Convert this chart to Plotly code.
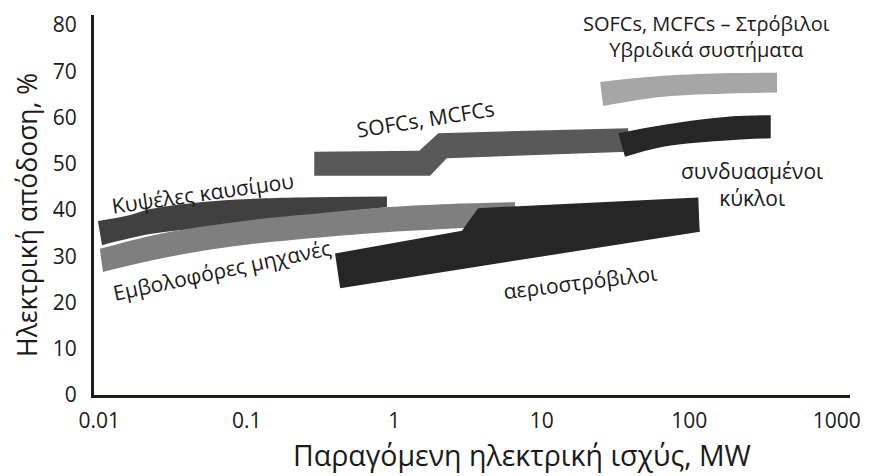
import plotly.graph_objects as go
import math

# ---- data (power in MW, electrical efficiency in %) ----
# smooth bands: upper edge and lower edge (left -> right)
fuel_cells_up_mw   = [0.0098, 0.0162, 0.0221, 0.0482, 0.105, 0.230, 0.893]
fuel_cells_up_eff  = [37.6, 38.9, 40.2, 41.7, 42.4, 42.7, 42.9]
fuel_cells_lo_mw   = [0.01045, 0.0221, 0.0482, 0.105, 0.230, 0.893]
fuel_cells_lo_eff  = [32.4, 34.8, 36.1, 37.4, 38.7, 40.6]

recip_up_mw   = [0.0101, 0.0221, 0.0482, 0.105, 0.230, 0.879, 2.39, 6.60]
recip_up_eff  = [31.6, 34.4, 36.3, 37.8, 38.9, 40.6, 41.3, 41.7]
recip_lo_mw   = [0.0106, 0.0221, 0.0482, 0.105, 0.230, 0.879, 2.88, 6.60]
recip_lo_eff  = [26.6, 29.0, 31.1, 32.6, 33.7, 35.2, 36.1, 36.8]

combined_up_mw  = [33.1, 66.4, 189, 357]
combined_up_eff = [56.6, 58.4, 60.2, 60.5]
combined_lo_mw  = [36.7, 66.4, 189, 357]
combined_lo_eff = [51.5, 53.7, 55.1, 55.5]

hybrid_up_mw  = [24.9, 66.4, 189, 394]
hybrid_up_eff = [67.7, 69.0, 69.6, 69.7]
hybrid_lo_mw  = [26.1, 66.4, 189, 394]
hybrid_lo_eff = [62.5, 64.5, 65.2, 65.4]

# stepped bands: closed outline
sofc_mw  = [0.287, 1.48, 1.99, 38.6, 38.6, 2.27, 1.75, 0.287]
sofc_eff = [52.6, 52.8, 56.6, 57.7, 52.6, 51.2, 47.4, 47.4]

gas_turbine_mw  = [0.397, 2.88, 3.70, 115.3, 116.8, 118.0, 0.430]
gas_turbine_eff = [30.6, 35.5, 40.4, 42.7, 37.8, 35.3, 23.1]

x_tick_vals = [0.01, 0.1, 1, 10, 100, 1000]
x_tick_text = ["0.01", "0.1", "1", "10", "100", "1000"]
y_tick_vals = [0, 10, 20, 30, 40, 50, 60, 70, 80]

FONT = "Open Sans"
TXT = "#1a1a1a"
AXC = "#1c1c14"

fig = go.Figure()


def smooth_band(name, xu, yu, xl, yl, col):
    fig.add_trace(go.Scatter(x=xl, y=yl, mode="lines",
                             line=dict(width=0, color=col, shape="spline", smoothing=1.0),
                             hoverinfo="skip", showlegend=False))
    fig.add_trace(go.Scatter(x=xu, y=yu, mode="lines", fill="tonexty", fillcolor=col,
                             line=dict(width=0, color=col, shape="spline", smoothing=1.0),
                             name=name, hoverinfo="name", showlegend=False))


def step_band(name, xs, ys, col):
    fig.add_trace(go.Scatter(x=xs, y=ys, mode="lines", fill="toself", fillcolor=col,
                             line=dict(width=0, color=col), name=name,
                             hoverinfo="name", showlegend=False))


smooth_band("Κυψέλες καυσίμου", fuel_cells_up_mw, fuel_cells_up_eff,
            fuel_cells_lo_mw, fuel_cells_lo_eff, "#404040")
smooth_band("Εμβολοφόρες μηχανές", recip_up_mw, recip_up_eff,
            recip_lo_mw, recip_lo_eff, "#7f7f7f")
step_band("SOFCs, MCFCs", sofc_mw, sofc_eff, "#595959")
step_band("αεριοστρόβιλοι", gas_turbine_mw, gas_turbine_eff, "#262626")
smooth_band("συνδυασμένοι κύκλοι", combined_up_mw, combined_up_eff,
            combined_lo_mw, combined_lo_eff, "#262626")
smooth_band("SOFCs, MCFCs – Στρόβιλοι", hybrid_up_mw, hybrid_up_eff,
            hybrid_lo_mw, hybrid_lo_eff, "#a6a6a6")

labels = [
    ("Κυψέλες καυσίμου", 0.0503, 43.7, -8, 21),
    ("Εμβολοφόρες μηχανές", 0.068, 27.0, -12, 21),
    ("SOFCs, MCFCs", 1.62, 59.7, -9, 21),
    ("αεριοστρόβιλοι", 18.2, 24.4, -7, 21),
    ("συνδυασμένοι<br>κύκλοι", 267, 45.6, 0, 21),
    ("SOFCs, MCFCs – Στρόβιλοι<br>Υβριδικά συστήματα", 130, 77.6, 0, 20),
]
for text, xv, yv, ang, size in labels:
    fig.add_annotation(x=math.log10(xv), y=yv, xref="x", yref="y", text=text,
                       textangle=ang, showarrow=False,
                       xanchor="center", yanchor="middle",
                       font=dict(family=FONT, size=size, color=TXT))

# axis titles
fig.add_annotation(x=0.566, y=-0.158, xref="paper", yref="paper",
                   xanchor="center", yanchor="middle",
                   text="Παραγόμενη ηλεκτρική ισχύς, MW", showarrow=False,
                   font=dict(family=FONT, size=28.5, color=TXT))
fig.add_annotation(x=-0.0886, y=0.474, xref="paper", yref="paper",
                   xanchor="center", yanchor="middle",
                   text="Ηλεκτρική απόδοση, %", showarrow=False, textangle=-90,
                   font=dict(family=FONT, size=26.5, color=TXT))

fig.update_xaxes(type="log", range=[-2.0353, 3.0902],
                 tickvals=x_tick_vals, ticktext=x_tick_text,
                 showline=True, linecolor=AXC, linewidth=3,
                 showgrid=False, zeroline=False, ticks="",
                 tickfont=dict(family=FONT, size=21, color=TXT),
                 ticklabelstandoff=5)
fig.update_yaxes(range=[0, 82.16], tickvals=y_tick_vals,
                 showline=True, linecolor=AXC, linewidth=3,
                 showgrid=False, zeroline=False, ticks="",
                 tickfont=dict(family=FONT, size=21, color=TXT),
                 ticklabelstandoff=10)
# page body keeps the browser's default 8px margin, so the figure is 8px smaller
fig.update_layout(width=866, height=468,
                  margin=dict(l=86, r=24, t=7, b=81, autoexpand=False),
                  plot_bgcolor="white", paper_bgcolor="white")

fig.write_html("out.html")
